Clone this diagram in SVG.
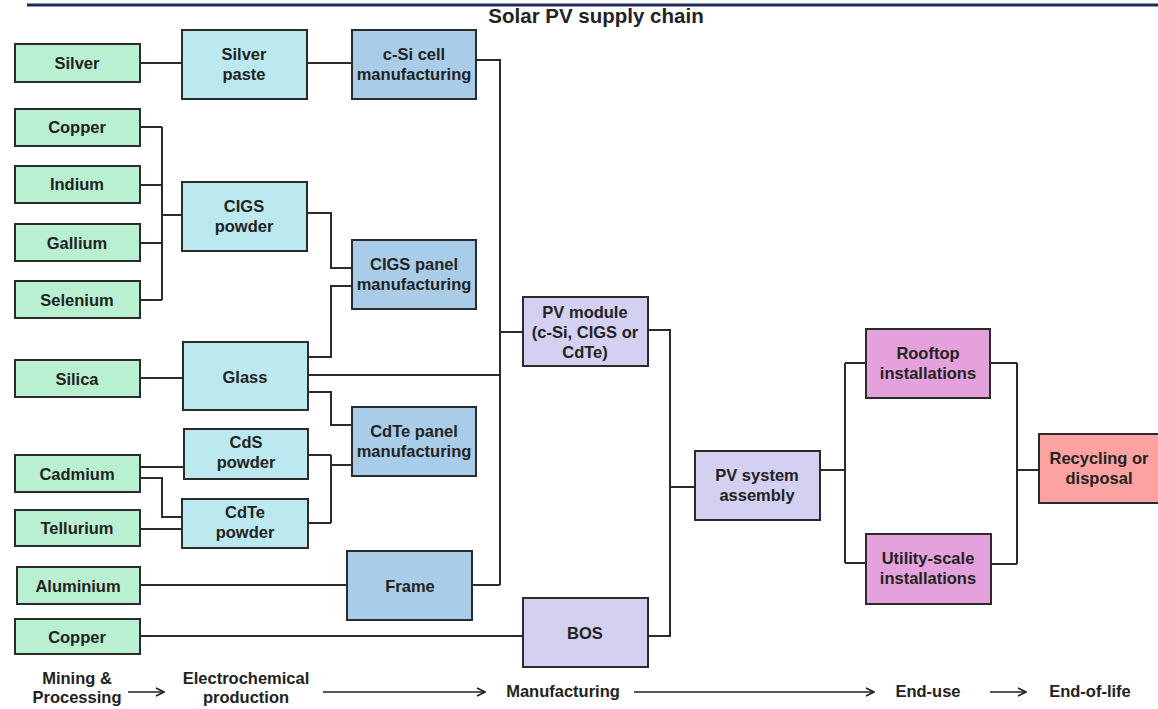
<svg xmlns="http://www.w3.org/2000/svg" width="1158" height="709" viewBox="0 0 1158 709">
<defs>
<style>
.n rect{stroke:#2b2b2b;stroke-width:2}
.g rect{fill:#b9f0d1}.c rect{fill:#bce9ef}.b rect{fill:#a9cde9}.v rect{fill:#d4d0f2}.p rect{fill:#e5a1db}.r rect{fill:#fca3a1}
text{font-family:"Liberation Sans",Arial,sans-serif;font-weight:bold;font-size:16.5px;fill:#222;text-anchor:middle}
.w{fill:none;stroke:#2b2b2b;stroke-width:2}
.t{font-size:20.5px;font-weight:bold}
</style>
<marker id="ah" viewBox="0 0 10 10" refX="9" refY="5" markerWidth="10" markerHeight="10" markerUnits="userSpaceOnUse" orient="auto"><path d="M1 1L9 5L1 9" fill="none" stroke="#222" stroke-width="1.6"/></marker>
</defs>
<rect width="1158" height="709" fill="#fff"/>
<line x1="27" y1="5" x2="1158" y2="5" stroke="#1c2a5c" stroke-width="3"/>
<text class="t" x="596" y="23">Solar PV supply chain</text>
<g id="connectors" class="w">
<path d="M140 63H182M307 63H352"/>
<path d="M476 60H500V585M472 585H500M500 332H523M308 375H500"/>
<path d="M140 127H162M140 185H162M140 243H162M140 300H162M162 127V300M162 215H182"/>
<path d="M307 213H331V268H352M308 357H331V286H352M308 392H331V425H352"/>
<path d="M308 455H331M308 523H331M331 455V523M331 465H352"/>
<path d="M140 467H184M140 478H162V517H182M140 529H182M140 378H183"/>
<path d="M140 585H347M140 636H523"/>
<path d="M648 330H670V636H648M670 487H695"/>
<path d="M820 470H845M845 363V563M845 363H866M845 563H866"/>
<path d="M990 363H1017M991 564H1017M1017 363V564M1017 470H1039"/>
</g>
<g id="silver" class="n g"><rect x="15" y="44" width="125" height="38"/><text x="77" y="69">Silver</text></g>
<g id="copper1" class="n g"><rect x="15" y="109" width="125" height="37"/><text x="77" y="133">Copper</text></g>
<g id="indium" class="n g"><rect x="15" y="166" width="125" height="37"/><text x="77" y="190">Indium</text></g>
<g id="gallium" class="n g"><rect x="15" y="224" width="125" height="37"/><text x="77" y="249">Gallium</text></g>
<g id="selenium" class="n g"><rect x="15" y="281" width="125" height="37"/><text x="77" y="306">Selenium</text></g>
<g id="silica" class="n g"><rect x="15" y="360" width="125" height="37"/><text x="77" y="385">Silica</text></g>
<g id="cadmium" class="n g"><rect x="15" y="455" width="125" height="37"/><text x="77" y="480">Cadmium</text></g>
<g id="tellurium" class="n g"><rect x="15" y="510" width="125" height="36"/><text x="77" y="534">Tellurium</text></g>
<g id="aluminium" class="n g"><rect x="17" y="567" width="123" height="37"/><text x="78" y="592">Aluminium</text></g>
<g id="copper2" class="n g"><rect x="15" y="619" width="125" height="35"/><text x="77" y="643">Copper</text></g>
<g id="silverpaste" class="n c"><rect x="182" y="30" width="125" height="69"/><text x="244" y="60">Silver</text><text x="244" y="80">paste</text></g>
<g id="cigspowder" class="n c"><rect x="182" y="182" width="125" height="69"/><text x="244" y="212">CIGS</text><text x="244" y="232">powder</text></g>
<g id="glass" class="n c"><rect x="183" y="342" width="125" height="68"/><text x="245" y="383">Glass</text></g>
<g id="cdspowder" class="n c"><rect x="184" y="429" width="124" height="50"/><text x="246" y="448">CdS</text><text x="246" y="468">powder</text></g>
<g id="cdtepowder" class="n c"><rect x="182" y="499" width="126" height="49"/><text x="245" y="518">CdTe</text><text x="245" y="538">powder</text></g>
<g id="csicell" class="n b"><rect x="352" y="30" width="124" height="69"/><text x="414" y="60">c-Si cell</text><text x="414" y="80">manufacturing</text></g>
<g id="cigspanel" class="n b"><rect x="352" y="240" width="124" height="69"/><text x="414" y="270">CIGS panel</text><text x="414" y="290">manufacturing</text></g>
<g id="cdtepanel" class="n b"><rect x="352" y="407" width="124" height="69"/><text x="414" y="437">CdTe panel</text><text x="414" y="457">manufacturing</text></g>
<g id="frame" class="n b"><rect x="347" y="551" width="125" height="69"/><text x="410" y="592">Frame</text></g>
<g id="pvmodule" class="n v"><rect x="523" y="297" width="125" height="69"/><text x="585" y="318">PV module</text><text x="585" y="338">(c-Si, CIGS or</text><text x="585" y="358">CdTe)</text></g>
<g id="bos" class="n v"><rect x="523" y="598" width="125" height="69"/><text x="585" y="639">BOS</text></g>
<g id="pvsystem" class="n v"><rect x="695" y="451" width="125" height="69"/><text x="757" y="481">PV system</text><text x="757" y="501">assembly</text></g>
<g id="rooftop" class="n p"><rect x="866" y="329" width="124" height="69"/><text x="928" y="359">Rooftop</text><text x="928" y="379">installations</text></g>
<g id="utility" class="n p"><rect x="866" y="534" width="125" height="70"/><text x="928" y="564">Utility-scale</text><text x="928" y="584">installations</text></g>
<g id="recycling" class="n r"><rect x="1039" y="434" width="125" height="69"/><text x="1099" y="464">Recycling or</text><text x="1099" y="484">disposal</text></g>
<g id="stages">
<text x="77" y="684">Mining &amp;</text><text x="77" y="703">Processing</text>
<text x="246" y="684">Electrochemical</text><text x="246" y="703">production</text>
<text x="563" y="697">Manufacturing</text>
<text x="928" y="697">End-use</text>
<text x="1090" y="697">End-of-life</text>
<g stroke="#222" stroke-width="1.6" marker-end="url(#ah)">
<line x1="128" y1="692" x2="164" y2="692"/>
<line x1="323" y1="692" x2="485" y2="692"/>
<line x1="634" y1="692" x2="874" y2="692"/>
<line x1="990" y1="692" x2="1026" y2="692"/>
</g>
</g>
</svg>
